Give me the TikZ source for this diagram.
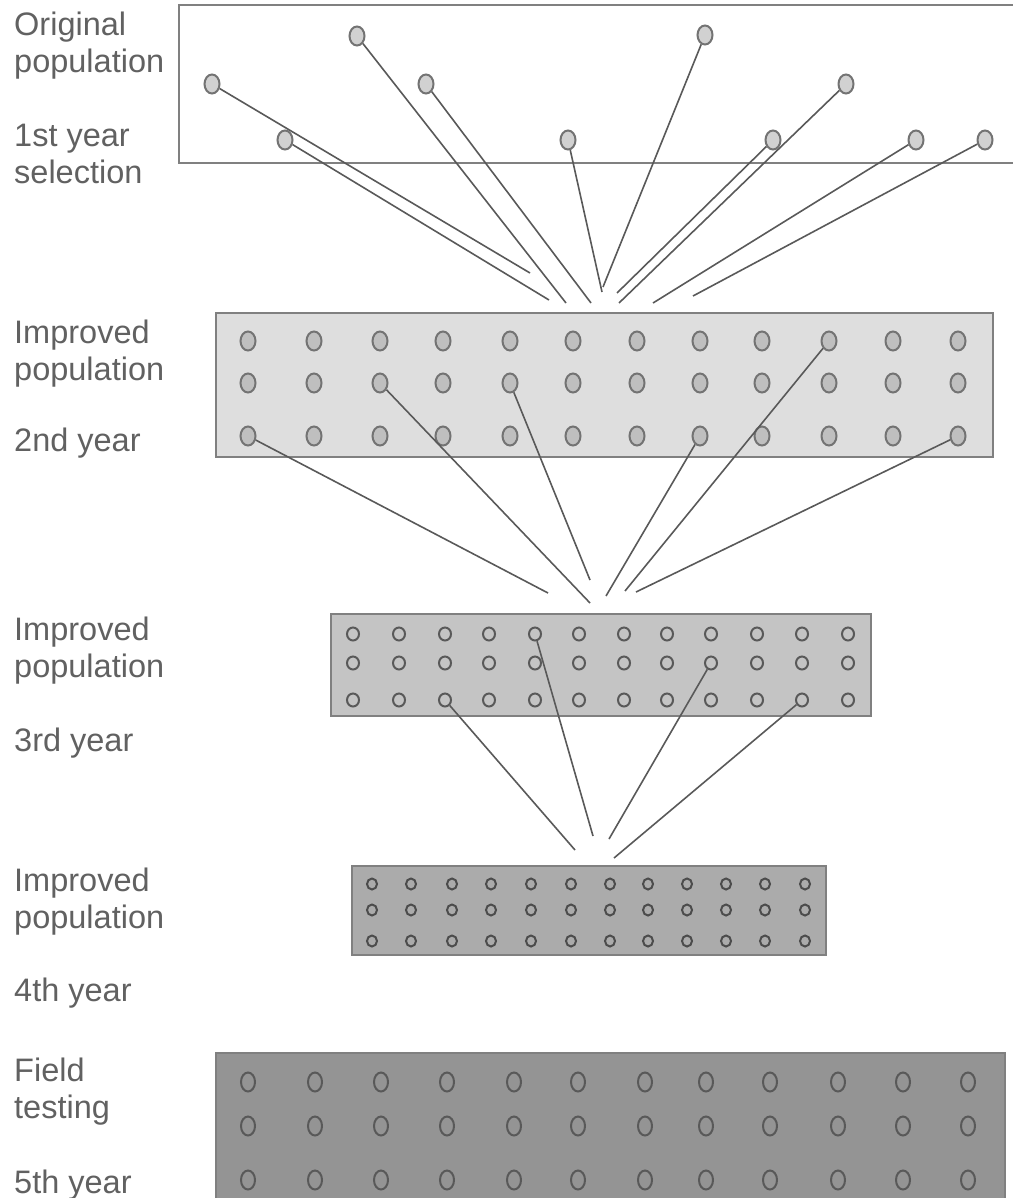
\documentclass[tikz,border=0pt]{standalone}
\usepackage{fontspec}
\setmainfont{Liberation Sans}
\usetikzlibrary{shapes.geometric}
\colorlet{txtgray}{black!62}
\tikzset{pop/.style={draw=black!50,line width=2.5pt},
         seed/.style={ellipse,draw=black!55,line width=2pt,inner sep=0,minimum width=15pt,minimum height=19pt},
         link/.style={draw=black!65,line width=1.6pt},
         lbl/.style={anchor=base west,inner sep=0,align=left,text=txtgray,font=\fontsize{32.5}{37}\selectfont}
}
\begin{document}
\begin{tikzpicture}[x=1pt,y=-1pt]
  \useasboundingbox (0,0) rectangle (1012,1198);
  % the five populations
  \draw[pop,fill=white]   (179,5) rectangle (1030,163);
  \draw[pop,fill=black!13](216,313) rectangle (993,457);
  \draw[pop,fill=black!23](331,614) rectangle (871,716);
  \draw[pop,fill=black!33](352,866) rectangle (826,955);
  \draw[pop,fill=black!42](216,1053) rectangle (1005,1215);
  % original population
  \foreach\n/\x/\y in {1/212/84,2/285/140,3/357/36,4/426/84,5/568/140,6/705/35,7/773/140,8/846/84,9/916/140,10/985/140}
     \node[seed,fill=black!18](o\n) at (\x,\y) {};
  % grids of the improved populations
  \foreach\x[count=\c] in {248,314,380,443,510,573,637,700,762,829,893,958}
     \foreach\y[count=\r] in {341,383,436}
        \node[seed,fill=black!25](b\c-\r) at (\x,\y) {};
  \foreach\x[count=\c] in {353,399,445,489,535,579,624,667,711,757,802,848}
     \foreach\y[count=\r] in {634,663,700}
        \node[seed,draw=black!65,fill=black!23,minimum width=12pt,minimum height=13pt](c\c-\r) at (\x,\y) {};
  \foreach\x[count=\c] in {372,411,452,491,531,571,610,648,687,726,765,805}
     \foreach\y[count=\r] in {884,910,941}
        \node[seed,draw=black!70,fill=black!33,minimum width=10pt,minimum height=11pt](d\c-\r) at (\x,\y) {};
  \foreach\x[count=\c] in {248,315,381,447,514,578,645,706,770,838,903,968}
     \foreach\y[count=\r] in {1082,1126,1180}
        \node[seed,draw=black!65,fill=black!42,minimum width=14pt,minimum height=19pt](f\c-\r) at (\x,\y) {};
  % selections
  \foreach\n/\x/\y in {1/530/273,2/549/300,3/566/303,4/591/303,5/602/292,6/603/287,7/617/293,8/619/303,9/653/303,10/693/296}
     \coordinate(s\n) at (\x,\y);
  \foreach\n in {1,...,10}
     \draw[link](o\n)--(s\n);
  \foreach\a/\x/\y in {b1-3/548/593,b3-2/590/603,b5-2/590/580,b8-3/606/596,b10-1/625/591,b12-3/636/592}
     \draw[link](\a)--(\x,\y);
  \foreach\a/\x/\y in {c3-3/575/850,c5-1/593/836,c9-2/609/839,c11-3/614/858}
     \draw[link](\a)--(\x,\y);
  % labels
  \node[lbl](l1) at (14,73) {Original\\population};
  \node[lbl](l2) at (14,184) {1st year\\selection};
  \node[lbl](l3) at (14,380) {Improved\\population};
  \node[lbl](l4) at (14,451) {2nd year};
  \node[lbl](l5) at (14,677) {Improved\\population};
  \node[lbl](l6) at (14,751) {3rd year};
  \node[lbl](l7) at (14,928) {Improved\\population};
  \node[lbl](l8) at (14,1001) {4th year};
  \node[lbl](l9) at (14,1118) {Field\\testing};
  \node[lbl](l10) at (14,1193) {5th year};
\end{tikzpicture}
\end{document}
